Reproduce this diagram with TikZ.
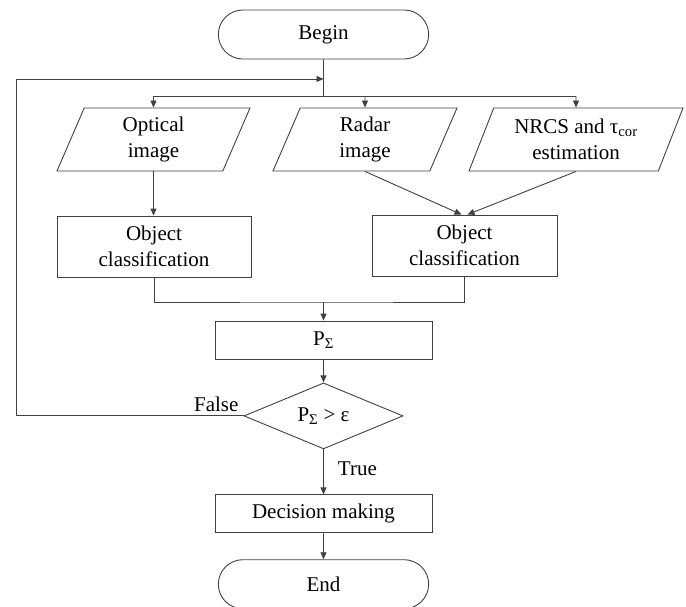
\documentclass[tikz,border=0pt]{standalone}
\usepackage{fontspec}
\setmainfont{Liberation Serif}
\usetikzlibrary{arrows.meta,positioning,shapes.geometric,shapes.misc}
\definecolor{edge}{HTML}{404040}

\begin{document}
\begin{tikzpicture}[x=1pt,y=1pt,>={Triangle[length=7pt,width=6pt]},
  font=\fontsize{21}{26}\selectfont,
  term/.style={draw=edge,line width=0.9pt,rounded rectangle,minimum width=217pt,minimum height=49pt},
  io/.style={draw=edge,line width=0.9pt,trapezium,trapezium left angle=60,trapezium right angle=120,
    trapezium stretches body,minimum height=63pt,align=center,inner sep=1pt},
  proc/.style={draw=edge,line width=0.9pt,rectangle,align=center},
  test/.style={draw=edge,line width=0.9pt,diamond,aspect=2.4,minimum width=159pt,minimum height=66pt,inner sep=0pt},
  line/.style={draw=edge,line width=0.9pt},
  arr/.style={line,->},
  lbl/.style={inner sep=4pt}]
\useasboundingbox (0,0) rectangle (686,-606);
\node[term] (begin) at (323.5,-34.5) {Begin};
\node[io,minimum width=193pt] (opt) at (153.5,-139.5) {Optical\\image};
\node[io,minimum width=184pt] (rad) at (365,-139.5) {Radar\\image};
\node[io,minimum width=214pt] (nrcs) at (576,-139.5) {NRCS and τ\textsubscript{cor}\\estimation};
\node[proc,minimum width=194pt,minimum height=61pt] (ocl) at (154,-246.5) {Object\\classification};
\node[proc,minimum width=185pt,minimum height=61pt] (ocr) at (464.5,-245.5) {Object\\classification};
\node[proc,minimum width=217pt,minimum height=38pt] (psum) at (323.5,-340) {P\textsubscript{Σ}};
\node[test,below=23pt of psum] (cmp) {P\textsubscript{Σ} > ε};
\node[proc,minimum width=217pt,minimum height=38pt,below=45pt of cmp] (dec) {Decision making};
\node[term,below=26pt of dec] (fin) {End};
% split and merge points
\coordinate (split) at (323.5,-96);
\coordinate (back) at (16,-79);
\coordinate (join) at (323.5,-302);
\draw[line] (begin) -- (split);
\draw[line] (split -| opt) -- (split -| nrcs);
\foreach \n in {opt,rad,nrcs}
  \draw[arr] (split -| \n) -- (\n.north);
\draw[arr] (opt.south) -- (opt.south |- ocl.north);
\draw[arr] (rad.south) -- ([xshift=-3pt]ocr.north);
\draw[arr] (nrcs.south) -- ([xshift=3pt]ocr.north);
\draw[line] (ocl.south) |- (join) -| (ocr.south);
\draw[arr] (join) -- (psum);
\draw[arr] (psum) -- (cmp);
\draw[arr] (cmp) -- node[lbl,right,pos=0.42,xshift=10pt] {True} (dec);
\draw[arr] (dec) -- (fin);
% loop back
\draw[arr] (cmp.west) -- node[lbl,above,pos=0.12] {False} (back |- cmp.west) |- (begin.south |- back);
\end{tikzpicture}
\end{document}
